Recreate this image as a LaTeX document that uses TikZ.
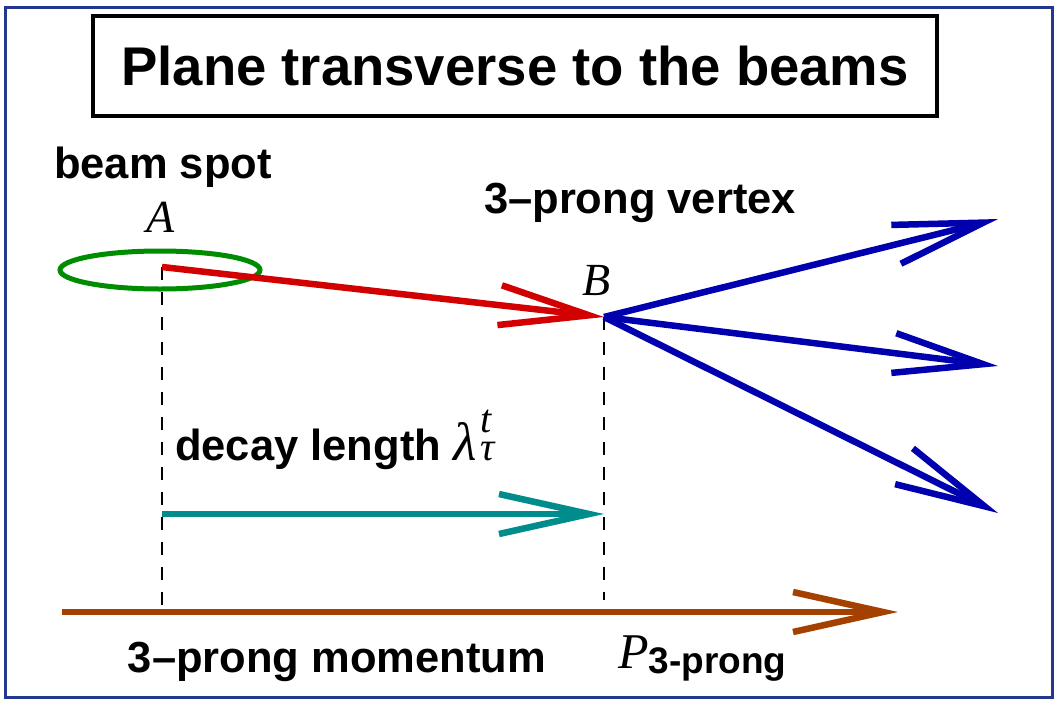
\documentclass[tikz,border=0pt]{standalone}
\usepackage{fontspec}
\setmainfont{Liberation Sans}
\newfontfamily\mathserif{Liberation Serif}
\usetikzlibrary{arrows.meta}
\definecolor{framecol}{RGB}{35,55,145}
\definecolor{spotgreen}{RGB}{0,140,0}
\definecolor{taured}{RGB}{210,0,0}
\definecolor{prongblue}{RGB}{0,0,175}
\definecolor{lentealcol}{RGB}{0,140,140}
\definecolor{mombrown}{RGB}{165,65,0}
\begin{document}
\begin{tikzpicture}[x=1pt, y=-1pt, >={Straight Barb[length=90pt,width=40pt,sharp]},
    lab/.style={font=\fontsize{43.5}{48}\selectfont\bfseries, inner sep=0pt, anchor=base},
    mlab/.style={font=\fontsize{46}{50}\selectfont\mathserif\itshape, inner sep=0pt, anchor=base},
    track/.style={line width=6.5pt},
    guide/.style={line width=1.8pt, dash pattern=on 13pt off 12pt}]
    \useasboundingbox (0,0) rectangle (1057,702);
    % Rahmen und Titel
    \draw[framecol, line width=3pt] (5,7) rectangle (1052,697);
    \node[draw, line width=4pt, minimum width=844pt, minimum height=100pt, inner sep=0pt,
          font=\fontsize{54.5}{60}\selectfont\bfseries] (title) at (515,66) {Plane transverse to the beams};

    % Punkte
    \coordinate (A) at (162,267);
    \coordinate (B) at (604,317);
    \coordinate (t1) at (998,219);
    \coordinate (t2) at (998,366);
    \coordinate (t3) at (998,513);
    \coordinate (Ld) at (162,514);
    \coordinate (Lt) at (604,514);
    \coordinate (Ms) at (62,612);
    \coordinate (Mt) at (898,612);
    \coordinate (Bfoot) at (604,600);

    % Strahlfleck
    \draw[spotgreen, line width=5pt] (160,270) ellipse [x radius=100pt, y radius=19pt];

    % Hilfslinien
    \draw[guide] (A) -- (A |- Ms);
    \draw[guide] (B) -- (Bfoot);

    % Tau-Flugstrecke und Spuren
    \draw[->, track, taured] (A) -- (B);
    \foreach \t in {t1,t2,t3} \draw[->, track, prongblue] (B) -- (\t);
    \draw[->, track, lentealcol] (Ld) -- (Lt);
    \draw[->, track, mombrown] (Ms) -- (Mt);

    % Beschriftungen
    \node[lab] (spotlab) at (163,178) {beam spot};
    \node[mlab] (Alab) at (161,232) {A};
    \node[lab] (vtxlab) at (640,213) {3--prong vertex};
    \node[mlab] (Blab) at (597,295) {B};
    \node[lab, anchor=base west] (lenlab) at (175,460)
        {decay length {\mathserif\mdseries\itshape\fontsize{54}{56}\selectfont λ\kern4pt\fontsize{40}{42}\selectfont\rlap{\raisebox{28pt}{t}}τ}};
    \node[lab] (momlab) at (337,672) {3--prong momentum};
    \node[mlab, anchor=base west, font=\fontsize{50}{55}\selectfont\mathserif\itshape] (Plab) at (618,668)
        {P\raisebox{-5pt}{\fontsize{37}{40}\selectfont\upshape\bfseries\rmfamily 3-prong}};
\end{tikzpicture}
\end{document}
